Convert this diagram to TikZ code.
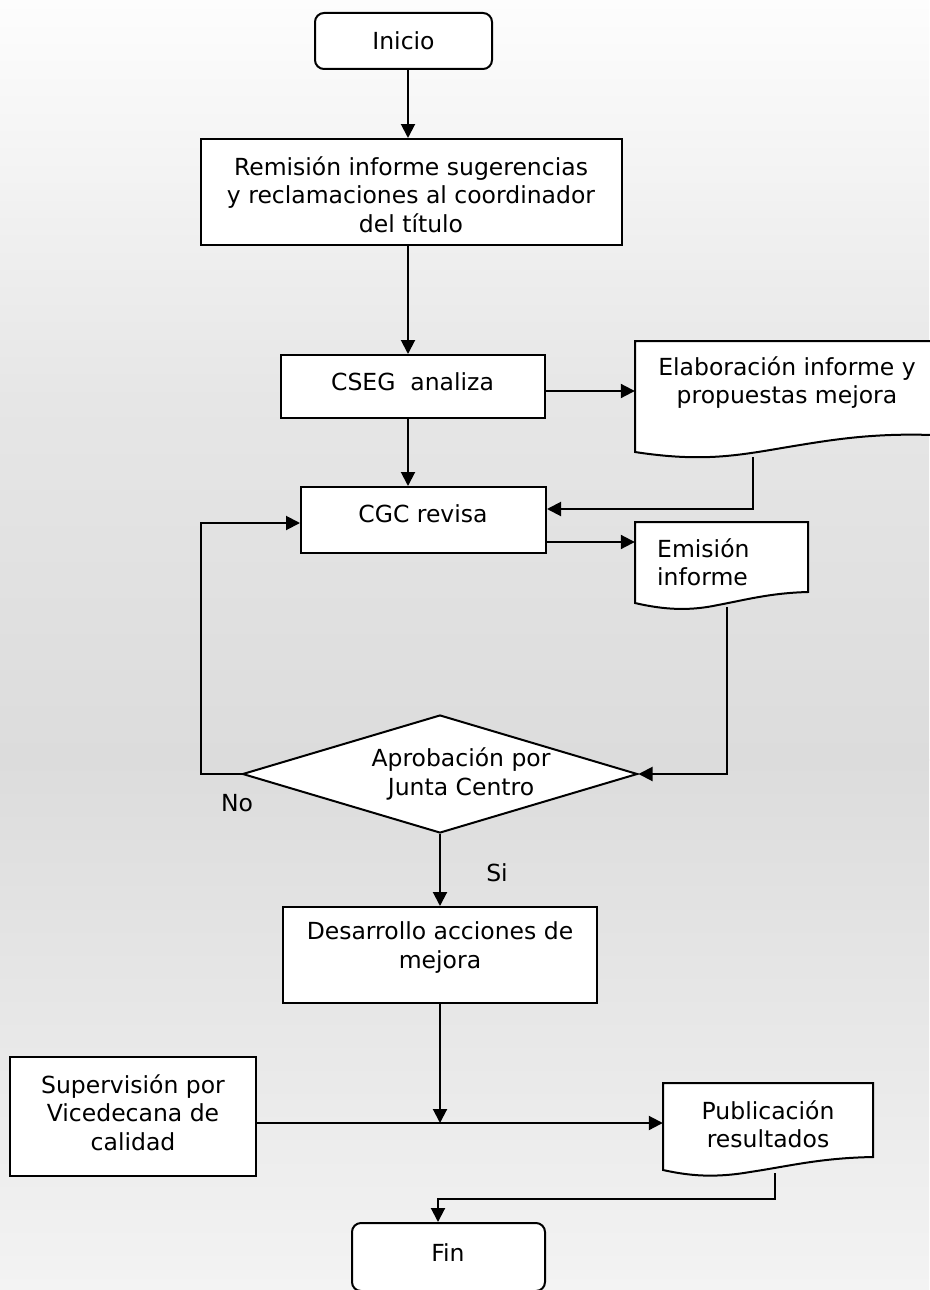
\documentclass[tikz,border=0pt]{standalone}
\usepackage{fontspec}
\setmainfont{DejaVu Sans}
\usetikzlibrary{arrows.meta,shapes.geometric,calc}
\definecolor{bgtop}{HTML}{FDFDFD}
\definecolor{bgmid}{HTML}{E6E6E6}
\definecolor{bgdark}{HTML}{DCDCDC}
\definecolor{bgbot}{HTML}{F3F3F3}
\begin{document}
\begin{tikzpicture}[x=1pt,y=-1pt,
  box/.style={draw=black, line width=2pt, fill=white, inner sep=0pt},
  area/.style={inner sep=0pt},
  txt/.style={font=\fontsize{23.5}{28.5}\selectfont, align=center, inner sep=0pt},
  arr/.style={line width=2pt, -{Triangle[length=14pt,width=14pt]}}]
\useasboundingbox (0,0) rectangle (929,1290);
% background
\shade[top color=bgtop,bottom color=bgmid] (0,0) rectangle (929,400);
\shade[top color=bgmid,bottom color=bgdark] (0,399) rectangle (929,760);
\shade[top color=bgdark,bottom color=bgbot] (0,759) rectangle (929,1290);

% boxes
\node[box, rounded corners=9pt, minimum width=177, minimum height=56] (inicio) at (403.5,41) {};
\node[box, minimum width=421, minimum height=106] (remision) at (411.5,192) {};
\node[box, minimum width=264, minimum height=63] (cseg) at (413,386.5) {};
\node[box, minimum width=245, minimum height=66] (cgc) at (423.5,520) {};
\node[box, shape=diamond, minimum width=395, minimum height=118] (dec) at (440,774) {};
\node[box, minimum width=314, minimum height=96] (desarrollo) at (440,955) {};
\node[box, minimum width=246, minimum height=119] (superv) at (133,1116.5) {};
\node[box, rounded corners=9pt, minimum width=193, minimum height=68] (fin) at (448.5,1257) {};

% document shapes
\node[area, minimum width=297, minimum height=111] (elab) at (783.5,396.5) {};
\draw[box] (635,341) -- (932,341) -- (932,435) .. controls (870,433) and (830,440) .. (782,448)
  .. controls (735,456) and (700,462) .. (635,452) -- cycle;
\node[area, minimum width=173, minimum height=81] (emision) at (721.5,562.5) {};
\draw[box] (635,522) -- (808,522) -- (808,592) .. controls (770,593) and (745,600) .. (718,605)
  .. controls (690,611) and (665,610) .. (635,603) -- cycle;
\node[area, minimum width=210, minimum height=87] (pub) at (768,1126.5) {};
\draw[box] (663,1083) -- (873,1083) -- (873,1157) .. controls (820,1158) and (790,1166) .. (750,1172)
  .. controls (715,1178) and (690,1176) .. (663,1170) -- cycle;

\coordinate (elabout) at (753,457);
\coordinate (emisout) at (727,607);
\coordinate (pubout) at (775,1173);
\coordinate (supout) at ([yshift=-6.5pt]superv.east);

% texts
\node[txt] (t-inicio) at (403.5,41) {Inicio};
\node[txt] (t-remision) at (411,194.5) {Remisión informe sugerencias\\y reclamaciones al coordinador\\del título};
\node[txt] (t-cseg) at (412.5,382) {CSEG\ \ analiza};
\node[txt] (t-elab) at (787,382.5) {Elaboración informe y\\propuestas mejora};
\node[txt] (t-cgc) at (423,514) {CGC revisa};
\node[txt, align=left, anchor=west] (t-emision) at (657,562.5) {Emisión\\informe};
\node[txt] (t-dec) at (461,774) {Aprobación por\\Junta Centro};
\node[txt] (t-des) at (440,947.5) {Desarrollo acciones de\\mejora};
\node[txt] (t-sup) at (133,1112.5) {Supervisión por\\Vicedecana de\\calidad};
\node[txt] (t-pub) at (768,1124.5) {Publicación\\resultados};
\node[txt] (t-fin) at (448,1253) {Fin};
\node[txt] (t-no) at (237,803) {No};
\node[txt] (t-si) at (497,873) {Si};

% connectors
\draw[arr] ([xshift=4.5pt]inicio.south) -- ([xshift=4.5pt]inicio.south |- remision.north);
\draw[arr] ([xshift=-3.5pt]remision.south) -- ([xshift=-3.5pt]remision.south |- cseg.north);
\draw[arr] ([yshift=-4.5pt]cseg.east) -- ([yshift=-4.5pt]cseg.east -| elab.west);
\draw[arr] ([xshift=-5pt]cseg.south) -- ([xshift=-5pt]cseg.south |- cgc.north);
\draw[arr] (elabout) |- ([yshift=11pt]cgc.east);
\draw[arr] ([yshift=-22pt]cgc.east) -- ([yshift=-22pt]cgc.east -| emision.west);
\draw[arr] (emisout) |- (dec.east);
\draw[arr] (dec.west) -- ++(-41,0) |- ([yshift=-3pt]cgc.west);
\draw[arr] (dec.south) -- (dec.south |- desarrollo.north);
\coordinate (junc) at (desarrollo.south |- supout);
\draw[arr] (desarrollo.south) -- (junc);
\draw[arr] (supout) -- (supout -| pub.west);
\draw[arr] (pubout) -- ++(0,26) -| ([xshift=-10.5pt]fin.north);
\end{tikzpicture}
\end{document}
